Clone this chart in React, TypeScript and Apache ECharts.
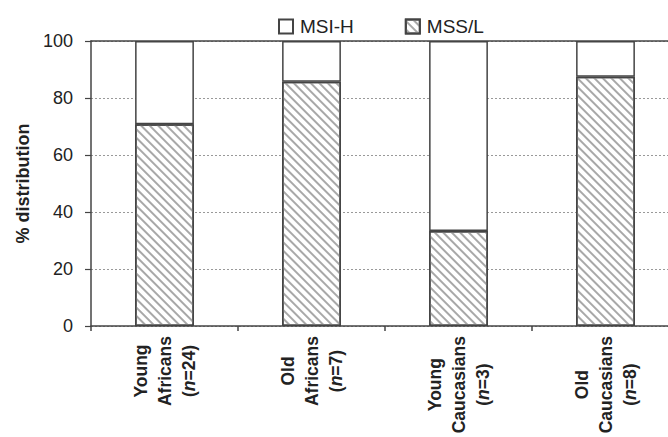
import React, { useEffect, useRef } from "react";
import * as echarts from "echarts";

const ageGroups = ["Young", "Old", "Young", "Old"];
const populations = ["Africans", "Africans", "Caucasians", "Caucasians"];
const sampleSizes = [24, 7, 3, 8];
const categories = ["Young Africans", "Old Africans", "Young Caucasians", "Old Caucasians"];
const mssL = [70.8, 85.7, 33.3, 87.5];
const msiH = [29.2, 14.3, 66.7, 12.5];
const yTicks = [0, 20, 40, 60, 80, 100];

const FONT = "'Liberation Sans', Arial, Helvetica, sans-serif";
const CAT_SIZE = 17.5;

let ctx: CanvasRenderingContext2D | null = null;
function textWidth(t: string, italic = false): number {
  if (!ctx) ctx = document.createElement("canvas").getContext("2d");
  if (!ctx) return t.length * 10;
  ctx.font = `${italic ? "italic " : ""}bold ${CAT_SIZE}px ${FONT}`;
  return ctx.measureText(t).width;
}

export default function App() {
  const ref = useRef<HTMLDivElement>(null);
  useEffect(() => {
    if (!ref.current) return;
    const chart = echarts.init(ref.current, null, { renderer: "svg" });
    const catStyle = { fontFamily: FONT, fontSize: CAT_SIZE, fontWeight: "bold", color: "#222", lineHeight: 24 };
    const rich: Record<string, any> = { b: catStyle, it: { ...catStyle, fontStyle: "italic" } };
    const labels: string[] = categories.map((_c, i) => {
      const l1 = ageGroups[i];
      const l2 = populations[i];
      const tail = `=${sampleSizes[i]})`;
      const w1 = textWidth(l1);
      const w2 = textWidth(l2);
      const w3 = textWidth("(") + textWidth("n", true) + textWidth(tail);
      const W = Math.max(w1, w2, w3);
      const sp = (w: number, k: string) => {
        const pad = (W - w) / 2;
        if (pad < 0.5) return "";
        rich[k] = { ...catStyle, width: pad };
        return `{${k}|\u00a0}`;
      };
      return (
        `{b|${l1}}${sp(w1, `s${i}a`)}\n` +
        `{b|${l2}}${sp(w2, `s${i}b`)}\n` +
        `{b|(}{it|n}{b|${tail}}${sp(w3, `s${i}c`)}`
      );
    });
    chart.setOption({
      animation: false,
      textStyle: { fontFamily: FONT },
      legend: {
        data: ["MSI-H", "MSS/L"],
        left: 273,
        top: 12,
        itemWidth: 14,
        itemHeight: 14,
        itemGap: 51,
        icon: "rect",
        textStyle: { fontSize: 19, color: "#222", fontFamily: FONT, padding: [0, 0, 0, 2] },
      },
      grid: { left: 91, right: -11, top: 41, bottom: 111, containLabel: false, outerBoundsMode: "none" },
      xAxis: [
        {
          type: "category",
          data: categories,
          position: "bottom",
          axisLine: { lineStyle: { color: "#444", width: 1.5 } },
          axisTick: { show: true, length: 5, lineStyle: { color: "#444", width: 1.5 } },
          axisLabel: {
            rotate: 90,
            margin: 10,
            interval: 0,
            hideOverlap: false,
            formatter: (_v: string, i: number) => labels[i],
            rich,
          },
        },
        {
          type: "category",
          data: categories,
          position: "top",
          axisLine: { show: true, lineStyle: { color: "#444", width: 1.5 } },
          axisTick: { show: false },
          axisLabel: { show: false },
        },
      ],
      yAxis: {
        type: "value",
        min: yTicks[0],
        max: yTicks[yTicks.length - 1],
        interval: 20,
        name: "% distribution",
        nameLocation: "middle",
        nameGap: 59,
        nameTextStyle: { fontSize: 18, fontWeight: "bold", color: "#222", fontFamily: FONT },
        axisLine: { show: true, lineStyle: { color: "#444", width: 1.5 } },
        axisTick: { show: true, length: 6, lineStyle: { color: "#444", width: 1.2 } },
        axisLabel: { fontSize: 18, color: "#222", margin: 18, fontFamily: FONT },
        splitLine: { show: true, lineStyle: { color: "#999", type: [2, 2], width: 1 } },
      },
      series: [
        {
          name: "MSS/L",
          type: "bar",
          stack: "total",
          barWidth: "40%",
          data: mssL,
          itemStyle: {
            color: "#ffffff",
            borderColor: "#444",
            borderWidth: 1.5,
            decal: {
              symbol: "rect",
              symbolSize: 1,
              dashArrayX: [1, 0],
              dashArrayY: [1.5, 3.5],
              rotation: Math.PI / 4,
              color: "#a8a8a8",
            },
          },
        },
        {
          name: "MSI-H",
          type: "bar",
          stack: "total",
          barWidth: "40%",
          data: msiH,
          itemStyle: { color: "#ffffff", borderColor: "#444", borderWidth: 1.5 },
        },
      ],
    });
    return () => chart.dispose();
  }, []);
  return (
    <div
      ref={ref}
      style={{ position: "fixed", left: 0, top: 0, width: 668, height: 437, background: "#fff" }}
    />
  );
}
